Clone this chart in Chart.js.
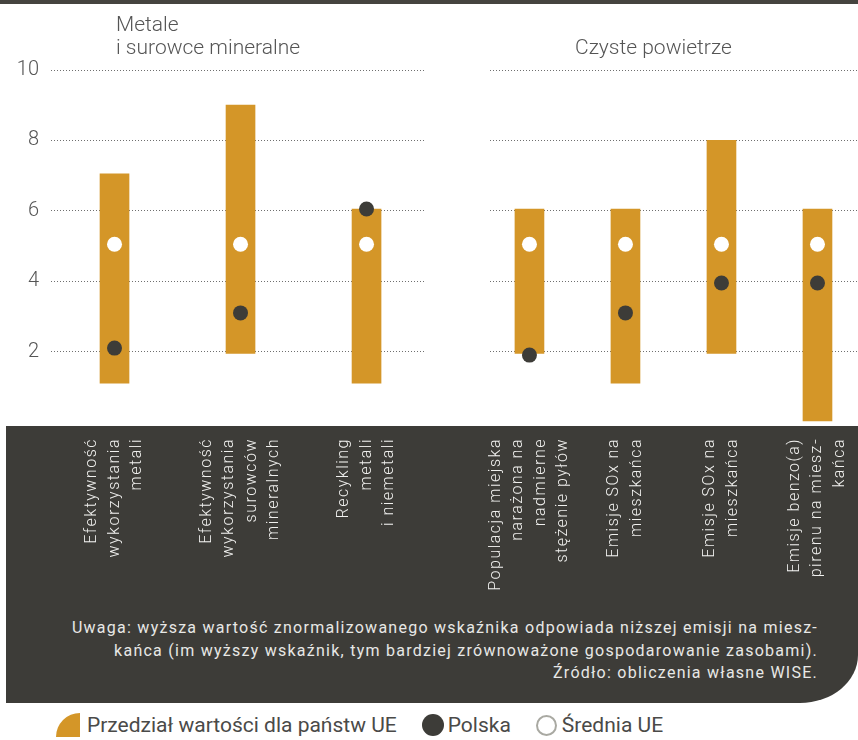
<!DOCTYPE html>
<html lang="pl">
<head>
<meta charset="utf-8">
<script src="https://cdn.jsdelivr.net/npm/chart.js@4"></script>
<style>
  html, body { margin: 0; padding: 0; background: #ffffff; }
  body { width: 858px; height: 740px; position: relative; overflow: hidden; font-family: Roboto, "Open Sans", sans-serif; }
  #topbar { position: absolute; left: 0; top: 0; width: 858px; height: 4px; background: #45443f; }
  #panel { position: absolute; left: 6px; top: 426px; width: 852px; height: 277px; background: #3d3c38; border-bottom-right-radius: 58px 48px; z-index: 0; }
  canvas { position: absolute; top: 0; z-index: 1; }
  #c1 { left: 0; }
  #c2 { left: 430px; }
  .title { position: absolute; color: #555; font-size: 21px; font-weight: 300; line-height: 23px; z-index: 2; white-space: nowrap; }
  #t1 { left: 116px; top: 13px; }
  #t2 { left: 575px; top: 36px; }
  #note { position: absolute; right: 40px; top: 617px; color: #e8e8e6; font-size: 16px; line-height: 22.5px; letter-spacing: 1.25px; text-align: right; z-index: 2; white-space: nowrap; }
  #legend { position: absolute; left: 56px; top: 712px; height: 26px; display: flex; align-items: center; color: #4a4a48; font-size: 21px; z-index: 2; white-space: nowrap; }
  .lg-range { width: 24px; height: 24px; background: #d49628; border-top-left-radius: 24px; margin-right: 7px; }
  .lg-pl { width: 22px; height: 22px; border-radius: 50%; background: #3d3c38; margin-left: 25px; margin-right: 4px; }
  .lg-eu { width: 17px; height: 17px; border-radius: 50%; border: 2.5px solid #a9a9a2; margin-left: 25px; margin-right: 5px; }
</style>
</head>
<body>
<div id="topbar"></div>
<div id="panel"></div>
<div class="title" id="t1">Metale<br>i surowce mineralne</div>
<div class="title" id="t2">Czyste powietrze</div>
<canvas id="c1" width="430" height="610"></canvas>
<canvas id="c2" width="428" height="610"></canvas>
<div id="note">Uwaga: wyższa wartość znormalizowanego wskaźnika odpowiada niższej emisji na miesz-<br>kańca (im wyższy wskaźnik, tym bardziej zrównoważone gospodarowanie zasobami).<br>Źródło: obliczenia własne WISE.</div>
<div id="legend">
  <div class="lg-range"></div><span>Przedział wartości dla państw UE</span>
  <div class="lg-pl"></div><span>Polska</span>
  <div class="lg-eu"></div><span>Średnia UE</span>
</div>
<script>
// ---- data ----
const metalCategories = [
  ["Efektywność", "wykorzystania", "metali"],
  ["Efektywność", "wykorzystania", "surowców", "mineralnych"],
  ["Recykling", "metali", "i niemetali"]
];
const metalEuMin = [1.1, 1.95, 1.1];
const metalEuMax = [7.05, 9.0, 6.05];
const metalPolska = [2.1, 3.1, 6.05];
const metalEuAvg = [5.05, 5.05, 5.05];

const airCategories = [
  ["Populacja miejska", "narażona na", "nadmierne", "stężenie pyłów"],
  ["Emisje SOx na", "mieszkańca"],
  ["Emisje SOx na", "mieszkańca"],
  ["Emisje benzo(a)", "pirenu na miesz-", "kańca"]
];
const airEuMin = [1.95, 1.1, 1.95, 0.03];
const airEuMax = [6.05, 6.05, 8.0, 6.05];
const airPolska = [1.9, 3.1, 3.95, 3.95];
const airEuAvg = [5.05, 5.05, 5.05, 5.05];

const yTickLabels = ["2", "4", "6", "8", "10"];

// ---- styles ----
const ORANGE = '#d49628';
const DARK = '#3d3c38';
const FONT = 'Roboto, "Open Sans", sans-serif';

const rotatedLabels = {
  id: 'rotatedLabels',
  afterDraw(chart, args, opts) {
    const ctx = chart.ctx;
    const xs = chart.scales.x;
    const top = chart.chartArea.bottom + 16;
    const lh = 22.5;
    ctx.save();
    ctx.fillStyle = '#f0f0ee';
    ctx.font = '300 16px ' + FONT;
    if ('letterSpacing' in ctx) ctx.letterSpacing = '1.5px';
    ctx.textAlign = 'right';
    ctx.textBaseline = 'middle';
    opts.categories.forEach((lines, i) => {
      const cx = xs.getPixelForValue(i);
      lines.forEach((line, j) => {
        const x = cx + (j - (lines.length - 1) / 2) * lh;
        ctx.save();
        ctx.translate(x, top);
        ctx.rotate(-Math.PI / 2);
        ctx.fillText(line, 0, 0);
        ctx.restore();
      });
    });
    ctx.restore();
  }
};

function makeChart(canvasId, cats, mins, maxs, pl, avg, opt) {
  const idx = cats.map((c, i) => i);
  const ticksVals = yTickLabels.map(Number);
  return new Chart(document.getElementById(canvasId), {
    type: 'bar',
    data: {
      datasets: [
        { type: 'scatter', label: 'Polska', data: idx.map(i => ({ x: i, y: pl[i] })),
          pointRadius: 7.5, pointHoverRadius: 7.5, pointBackgroundColor: DARK, pointBorderWidth: 0, order: 1, clip: false },
        { type: 'scatter', label: 'Średnia UE', data: idx.map(i => ({ x: i, y: avg[i] })),
          pointRadius: 7.5, pointHoverRadius: 7.5, pointBackgroundColor: '#ffffff', pointBorderWidth: 0, order: 2, clip: false },
        { type: 'bar', label: 'Przedział wartości dla państw UE', data: idx.map(i => ({ x: i, y: [mins[i], maxs[i]] })),
          backgroundColor: ORANGE, barThickness: 29, borderWidth: 0, order: 3 }
      ]
    },
    options: {
      responsive: false,
      animation: false,
      events: [],
      layout: { autoPadding: false, padding: { top: 70, bottom: 188, left: 0, right: opt.padRight } },
      plugins: { legend: { display: false }, tooltip: { enabled: false }, title: { display: false },
                 rotatedLabels: { categories: cats } },
      scales: {
        x: { type: 'linear', display: false, offset: false, bounds: 'data',
             min: -opt.edgeLeft, max: cats.length - 1 + opt.edgeRight,
             grid: { display: false, offset: false } },
        y: {
          min: 0, max: 10,
          afterFit(s) { s.width = opt.axisWidth; },
          afterBuildTicks(s) { s.ticks = [0].concat(ticksVals).map(v => ({ value: v })); },
          border: { display: false, dash: [1, 2] },
          grid: { drawTicks: false, lineWidth: 1,
                  color: c => (c.tick && c.tick.value === 0) ? 'rgba(0,0,0,0)' : '#6f6f6f' },
          ticks: { display: opt.showTicks, padding: 12, color: '#555',
                   font: { family: FONT, size: 20, weight: '300' },
                   callback: v => v === 0 ? '' : yTickLabels[ticksVals.indexOf(v)] }
        }
      }
    },
    plugins: [rotatedLabels]
  });
}

makeChart('c1', metalCategories, metalEuMin, metalEuMax, metalPolska, metalEuAvg,
  { axisWidth: 51, padRight: 5, edgeLeft: 0.504, edgeRight: 0.464, showTicks: true });
makeChart('c2', airCategories, airEuMin, airEuMax, airPolska, airEuAvg,
  { axisWidth: 60, padRight: 0, edgeLeft: 0.411, edgeRight: 0.422, showTicks: false });
</script>
</body>
</html>
